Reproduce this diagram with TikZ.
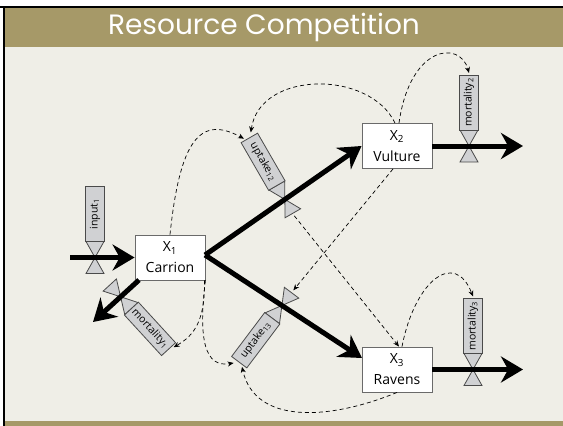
\documentclass[tikz,border=0pt]{standalone}
\usepackage{fontspec}
\setmainfont{Open Sans}
\newfontfamily\titlefont{Poppins}
\usetikzlibrary{arrows.meta,calc}

\definecolor{band}{HTML}{A69968}
\definecolor{slide}{HTML}{EFEEE7}
\definecolor{valvegray}{HTML}{D0D1D3}
\definecolor{valveline}{HTML}{4A4A4A}
\definecolor{stockline}{HTML}{6A6A6A}

\tikzset{
	stock/.style={draw=stockline, fill=white, line width=0.9pt, minimum width=70pt, minimum height=45pt, align=center, font=\fontsize{14}{21}\selectfont},
	flow/.style={line width=5pt, -{Stealth[length=22pt,width=26pt]}},
	link/.style={dash pattern=on 4pt off 3pt, line width=0.7pt, -{Stealth[length=6pt,width=5pt]}},
	valvepart/.style={fill=valvegray, draw=valveline, line width=0.8pt},
	vlabel/.style={font=\fontsize{10.5}{10.5}\selectfont, inner sep=0pt},
	title/.style={text=white, font=\titlefont\fontsize{28}{28}\selectfont}
}

% name, position, rotation, text angle, label
\newcommand{\valve}[5]{%
	\begin{scope}[shift={#2}, rotate=#3]
		\draw[valvepart] (0,0) -- (-9,-16) -- (9,-16) -- cycle;
		\draw[valvepart] (0,0) -- (-9,16) -- (9,16) -- cycle;
		\draw[valvepart] (-9.5,-16) rectangle (9.5,-71);
		\node[vlabel, rotate=#4] (#1) at (0,-43.5) {#5};
		\coordinate (#1 m) at (0,-73);
		\coordinate (#1 l) at (-5,-73);
		\coordinate (#1 r) at (4,-75);
		\coordinate (#1 out) at (0,19);
	\end{scope}}

\begin{document}
\begin{tikzpicture}[x=1pt,y=-1pt]
	\useasboundingbox (0,0) rectangle (563,426);
	% slide frame
	\fill[white] (0,0) rectangle (563,426);
	\fill[black] (0,6) rectangle (563,8);
	\fill[black] (3,6) rectangle (5,426);
	\fill[band] (5,8) rectangle (563,47);
	\fill[slide] (5,47) rectangle (563,421);
	\fill[band] (5,421) rectangle (563,426);
	\node[title] (title) at (264,27) {Resource Competition};

	% stocks
	\node[stock] (carrion) at (170,257.5) {X\textsubscript{1}\\Carrion};
	\node[stock] (vulture) at (397,146) {X\textsubscript{2}\\Vulture};
	\node[stock] (ravens) at (397,369.5) {X\textsubscript{3}\\Ravens};

	% flow ends
	\coordinate (source1) at (70,257.5);
	\coordinate (sink1) at (93,322);
	\coordinate (sink2) at (523,146);
	\coordinate (sink3) at (523,369.5);
	\coordinate (carrion out) at (205,255);
	\coordinate (carrion low) at (139,280);
	\coordinate (ravens in) at (362,358);

	% valves
	\valve{input1}{(95,257.5)}{0}{90}{input\textsubscript{1}}
	\valve{mortality1}{($(carrion low)!0.4!(sink1)$)}{-137.5}{-47.5}{mortality\textsubscript{1}}
	\valve{uptake12}{($(carrion out)!0.51!(vulture.west)$)}{30}{-60}{uptake\textsubscript{12}}
	\valve{uptake13}{($(carrion out)!0.49!(ravens in)$)}{143}{53}{uptake\textsubscript{13}}
	\valve{mortality2}{(469,146)}{0}{90}{mortality\textsubscript{2}}
	\valve{mortality3}{(473,369.5)}{0}{90}{mortality\textsubscript{3}}

	% flows
	\draw[flow] (source1) -- (carrion.west);
	\draw[flow] (carrion low) -- (sink1);
	\draw[flow] (carrion out) -- (vulture.west);
	\draw[flow] (carrion out) -- (ravens in);
	\draw[flow] (vulture.east) -- (sink2);
	\draw[flow] (ravens.east) -- (sink3);

	% links
	\draw[link] (carrion.north) .. controls (180,140) and (200,115) .. (uptake12 l);
	\draw[link] ([xshift=-2pt]vulture.north) .. controls (370,70) and (260,70) .. (uptake12 r);
	\draw[link] ([xshift=2pt]vulture.north) .. controls (410,45) and (460,40) .. (mortality2 m);
	\draw[link] ([xshift=-4pt]vulture.south) -- (uptake13 out);
	\draw[link] (uptake12 out) -- ([xshift=2pt]ravens.north);
	\draw[link] ([xshift=5pt]ravens.north) .. controls (415,280) and (455,250) .. (mortality3 m);
	\draw[link] ([xshift=-1pt]carrion.south east) .. controls (205,320) and (195,335) .. (mortality1 l);
	\draw[link] (carrion.south east) .. controls (198,340) and (205,368) .. (uptake13 r);
	\draw[link] (ravens.south) .. controls (330,420) and (255,425) .. (uptake13 l);
\end{tikzpicture}
\end{document}
